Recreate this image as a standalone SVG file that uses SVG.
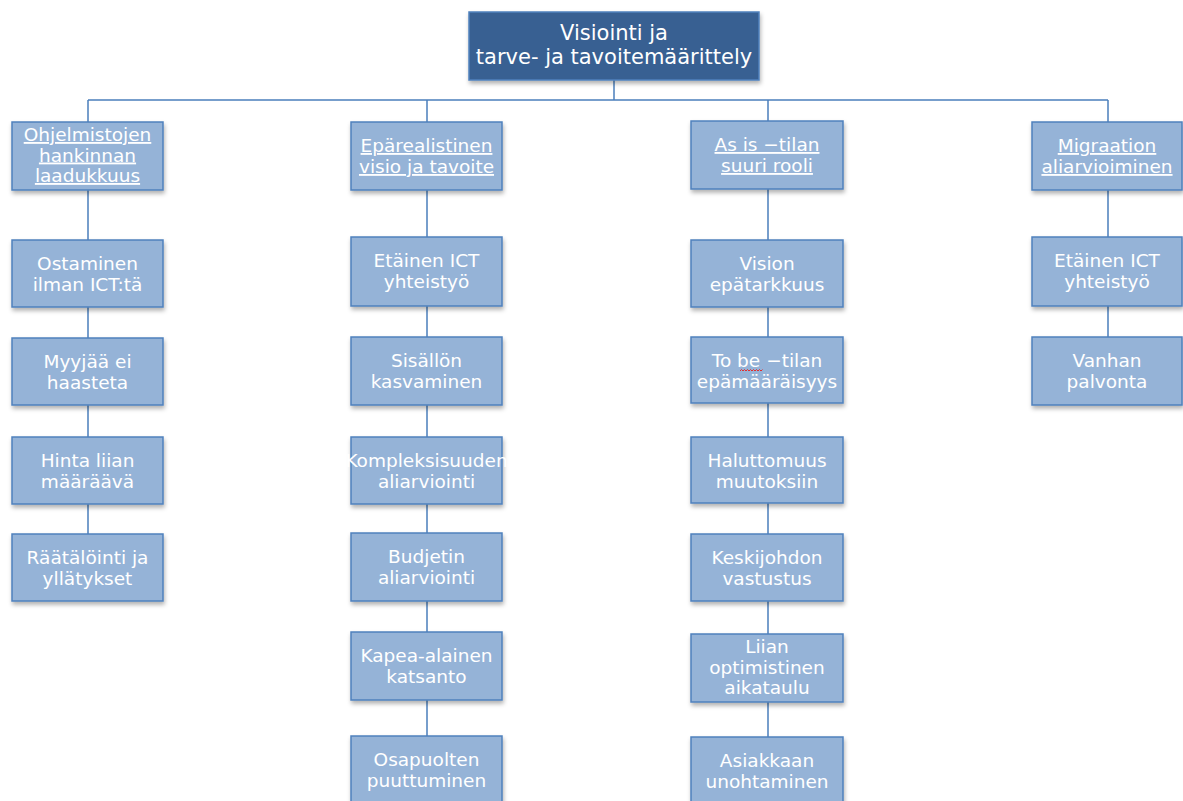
<svg xmlns="http://www.w3.org/2000/svg" width="1183" height="801" viewBox="0 0 1183 801">
  <defs>
    <filter id="shadow" x="-10%" y="-10%" width="125%" height="135%">
      <feDropShadow dx="1" dy="3" stdDeviation="2" flood-color="#000" flood-opacity="0.3"/>
    </filter>
    <style>
      .box { fill: #95b3d7; stroke: #4f81bd; stroke-width: 1.5; filter: url(#shadow); }
      .root { fill: #376092; stroke: #4f81bd; stroke-width: 1.5; filter: url(#shadow); }
      .lbl { font-family: "DejaVu Sans", Verdana, sans-serif; font-size: 18.5px; fill: #ffffff; text-anchor: middle; }
      .rlbl { font-family: "DejaVu Sans", Verdana, sans-serif; font-size: 21px; fill: #ffffff; text-anchor: middle; }
      .hd { text-decoration: underline; }
      .wire { stroke: #4a7ebb; stroke-width: 1.5; fill: none; }
    </style>
  </defs>
  <rect width="1183" height="801" fill="#ffffff"/>

  <!-- connectors -->
  <g id="connectors" class="wire">
    <path d="M614 80 V100"/>
    <path d="M88 100 H1108"/>
    <path d="M88 100 V534"/>
    <path d="M427 100 V736"/>
    <path d="M768 100 V737"/>
    <path d="M1108 100 V337"/>
  </g>

  <!-- root -->
  <g id="root">
    <rect class="root" x="469" y="12" width="290" height="68"/>
    <text class="rlbl" x="614" y="40">Visiointi ja</text>
    <text class="rlbl" x="614" y="64">tarve- ja tavoitemäärittely</text>
  </g>

  <!-- column 1 -->
  <g id="ohjelmistojen">
    <rect class="box" x="12" y="122" width="151" height="68"/>
    <text class="lbl hd" x="87.5" y="141">Ohjelmistojen</text>
    <text class="lbl hd" x="87.5" y="161.5">hankinnan</text>
    <text class="lbl hd" x="87.5" y="182">laadukkuus</text>
  </g>
  <g id="ostaminen">
    <rect class="box" x="12" y="240" width="151" height="67"/>
    <text class="lbl" x="87.5" y="270">Ostaminen</text>
    <text class="lbl" x="87.5" y="291">ilman ICT:tä</text>
  </g>
  <g id="myyjaa">
    <rect class="box" x="12" y="338" width="151" height="67"/>
    <text class="lbl" x="87.5" y="368">Myyjää ei</text>
    <text class="lbl" x="87.5" y="389">haasteta</text>
  </g>
  <g id="hinta">
    <rect class="box" x="12" y="437" width="151" height="67"/>
    <text class="lbl" x="87.5" y="467">Hinta liian</text>
    <text class="lbl" x="87.5" y="488">määräävä</text>
  </g>
  <g id="raatalointi">
    <rect class="box" x="12" y="534" width="151" height="67"/>
    <text class="lbl" x="87.5" y="564">Räätälöinti ja</text>
    <text class="lbl" x="87.5" y="585">yllätykset</text>
  </g>

  <!-- column 2 -->
  <g id="eparealistinen">
    <rect class="box" x="351" y="122" width="151" height="68"/>
    <text class="lbl hd" x="426.5" y="152">Epärealistinen</text>
    <text class="lbl hd" x="426.5" y="173">visio ja tavoite</text>
  </g>
  <g id="etainen-1">
    <rect class="box" x="351" y="237" width="151" height="69"/>
    <text class="lbl" x="426.5" y="267">Etäinen ICT</text>
    <text class="lbl" x="426.5" y="288">yhteistyö</text>
  </g>
  <g id="sisallon">
    <rect class="box" x="351" y="337" width="151" height="68"/>
    <text class="lbl" x="426.5" y="367">Sisällön</text>
    <text class="lbl" x="426.5" y="388">kasvaminen</text>
  </g>
  <g id="kompleksisuuden">
    <rect class="box" x="351" y="437" width="151" height="67"/>
    <text class="lbl" x="426.5" y="467">Kompleksisuuden</text>
    <text class="lbl" x="426.5" y="488">aliarviointi</text>
  </g>
  <g id="budjetin">
    <rect class="box" x="351" y="533" width="151" height="68"/>
    <text class="lbl" x="426.5" y="563">Budjetin</text>
    <text class="lbl" x="426.5" y="584">aliarviointi</text>
  </g>
  <g id="kapea">
    <rect class="box" x="351" y="632" width="151" height="68"/>
    <text class="lbl" x="426.5" y="662">Kapea-alainen</text>
    <text class="lbl" x="426.5" y="683">katsanto</text>
  </g>
  <g id="osapuolten">
    <rect class="box" x="351" y="736" width="151" height="68"/>
    <text class="lbl" x="426.5" y="766">Osapuolten</text>
    <text class="lbl" x="426.5" y="787">puuttuminen</text>
  </g>

  <!-- column 3 -->
  <g id="as-is">
    <rect class="box" x="691" y="121" width="152" height="68"/>
    <text class="lbl hd" x="767" y="151">As is −tilan</text>
    <text class="lbl hd" x="767" y="172">suuri rooli</text>
  </g>
  <g id="vision">
    <rect class="box" x="691" y="240" width="152" height="67"/>
    <text class="lbl" x="767" y="270">Vision</text>
    <text class="lbl" x="767" y="291">epätarkkuus</text>
  </g>
  <g id="to-be">
    <rect class="box" x="691" y="337" width="152" height="66"/>
    <text class="lbl" x="767" y="367">To be −tilan</text>
    <text class="lbl" x="767" y="388">epämääräisyys</text>
    <!-- spell-check squiggle under "be" -->
    <path d="M740 371 l1.5 -1.5 l1.5 1.5 l1.5 -1.5 l1.5 1.5 l1.5 -1.5 l1.5 1.5 l1.5 -1.5 l1.5 1.5 l1.5 -1.5 l1.5 1.5 l1.5 -1.5 l1.5 1.5 l1.5 -1.5 l1.5 1.5 l1.5 -1.5" fill="none" stroke="#e03030" stroke-width="1"/>
  </g>
  <g id="haluttomuus">
    <rect class="box" x="691" y="437" width="152" height="66"/>
    <text class="lbl" x="767" y="467">Haluttomuus</text>
    <text class="lbl" x="767" y="488">muutoksiin</text>
  </g>
  <g id="keskijohdon">
    <rect class="box" x="691" y="534" width="152" height="67"/>
    <text class="lbl" x="767" y="564">Keskijohdon</text>
    <text class="lbl" x="767" y="585">vastustus</text>
  </g>
  <g id="liian">
    <rect class="box" x="691" y="634" width="152" height="68"/>
    <text class="lbl" x="767" y="653">Liian</text>
    <text class="lbl" x="767" y="673.5">optimistinen</text>
    <text class="lbl" x="767" y="694">aikataulu</text>
  </g>
  <g id="asiakkaan">
    <rect class="box" x="691" y="737" width="152" height="68"/>
    <text class="lbl" x="767" y="767">Asiakkaan</text>
    <text class="lbl" x="767" y="788">unohtaminen</text>
  </g>

  <!-- column 4 -->
  <g id="migraation">
    <rect class="box" x="1032" y="122" width="150" height="68"/>
    <text class="lbl hd" x="1107" y="152">Migraation</text>
    <text class="lbl hd" x="1107" y="173">aliarvioiminen</text>
  </g>
  <g id="etainen-2">
    <rect class="box" x="1032" y="237" width="150" height="69"/>
    <text class="lbl" x="1107" y="267">Etäinen ICT</text>
    <text class="lbl" x="1107" y="288">yhteistyö</text>
  </g>
  <g id="vanhan">
    <rect class="box" x="1032" y="337" width="150" height="68"/>
    <text class="lbl" x="1107" y="367">Vanhan</text>
    <text class="lbl" x="1107" y="388">palvonta</text>
  </g>
</svg>
